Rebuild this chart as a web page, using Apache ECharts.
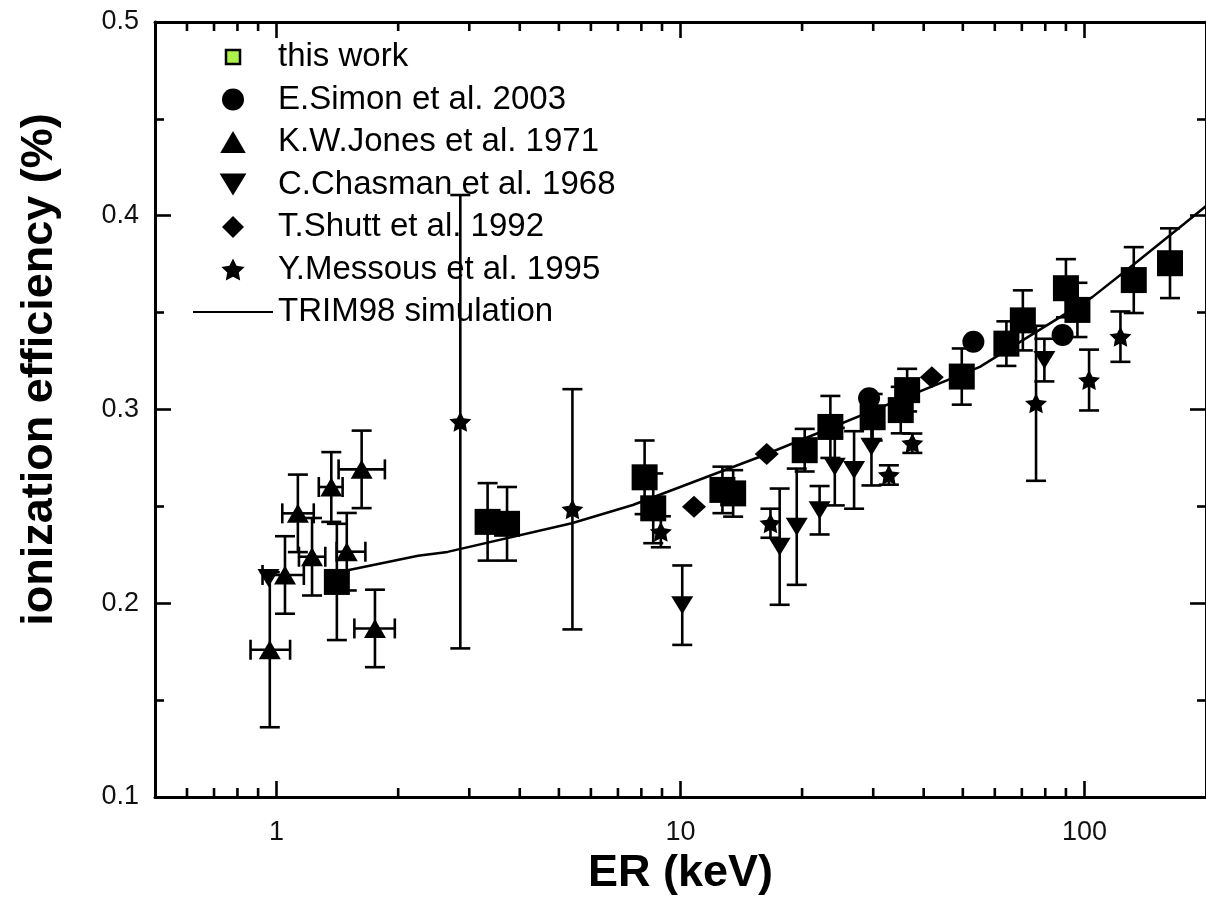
<!DOCTYPE html>
<html>
<head>
<meta charset="utf-8">
<script src="https://cdn.jsdelivr.net/npm/echarts@6/dist/echarts.min.js"></script>
<style>
  html, body { margin: 0; padding: 0; background: #fff; overflow: hidden; }
  #chart { width: 1206px; height: 916px; }
</style>
</head>
<body>
<div id="chart"></div>
<script>
// Recoil energy (keV) and ionization efficiency for each data set
const thisWorkX   = [1.41, 3.33, 3.72, 8.15, 8.56, 12.7, 13.5, 20.3, 23.5, 29.9, 35.1, 36.4, 49.7, 64.1, 70.4, 90.0, 96.1, 132.5, 162.9];
const thisWorkY   = [0.211, 0.242, 0.241, 0.265, 0.249, 0.2585, 0.2567, 0.279, 0.291, 0.296, 0.2997, 0.310, 0.317, 0.334, 0.346, 0.3626, 0.3514, 0.3668, 0.3755];
const thisWorkErr = [0.030, 0.020, 0.019, 0.019, 0.018, 0.012, 0.012, 0.011, 0.016, 0.012, 0.012, 0.011, 0.0145, 0.0115, 0.0155, 0.015, 0.014, 0.017, 0.018];

const simonX = [29.3, 53.1, 88.3];
const simonY = [0.3058, 0.335, 0.3385];

const jonesX    = [0.962, 1.049, 1.129, 1.224, 1.366, 1.492, 1.624, 1.752];
const jonesY    = [0.176, 0.2146, 0.2464, 0.224, 0.260, 0.2266, 0.2691, 0.187];
const jonesErr  = [0.040, 0.020, 0.020, 0.020, 0.018, 0.020, 0.020, 0.020];
const jonesXLow = [0.862, 0.923, 1.033, 1.136, 1.272, 1.408, 1.424, 1.558];
const jonesXHigh= [1.080, 1.168, 1.236, 1.320, 1.457, 1.659, 1.854, 1.962];

const chasmanX   = [0.955, 10.1, 17.6, 19.4, 22.1, 24.1, 26.9, 29.7, 79.6];
const chasmanY   = [0.213, 0.199, 0.2292, 0.2395, 0.248, 0.2705, 0.2688, 0.2808, 0.3255];
const chasmanErr = [0, 0.0205, 0.030, 0.030, 0.0125, 0.020, 0.020, 0.020, 0.011];

const shuttX = [10.8, 16.35, 41.9];
const shuttY = [0.2498, 0.277, 0.3166];

const messousX   = [2.85, 5.40, 8.94, 16.7, 32.8, 37.5, 75.9, 102.7, 122.8];
const messousY   = [0.2937, 0.2485, 0.2369, 0.2413, 0.2662, 0.2826, 0.3032, 0.3152, 0.3376];
const messousErr = [0.117, 0.062, 0.008, 0.0075, 0.005, 0.005, 0.040, 0.0157, 0.013];

const trimX = [1.35, 1.5, 2.24, 2.65, 5.38, 7.62, 15.9, 55.1, 104.6, 135, 177, 200];
const trimY = [0.2145, 0.217, 0.2245, 0.2265, 0.2413, 0.2507, 0.276, 0.322, 0.358, 0.3763, 0.396, 0.405];

// Axis ranges and log-axis minor tick positions
const xRange = [0.5, 200];
const yRange = [0.1, 0.5];
const xMinorTicks = [0.6, 0.7, 0.8, 0.9, 2, 3, 4, 5, 6, 7, 8, 9, 20, 30, 40, 50, 60, 70, 80, 90];

const FONT = 'Liberation Sans, Arial, Helvetica, sans-serif';
const STAR = 'path://M50,0 L64.7,29.8 L97.6,34.5 L73.8,57.7 L79.4,90.5 L50,75 L20.6,90.5 L26.2,57.7 L2.4,34.5 L35.3,29.8 Z';
const UP_TRI = 'path://M50,0 L100,86 L0,86 Z';
const DOWN_TRI = 'path://M0,0 L100,0 L50,82 Z';
const DIAMOND = 'path://M50,0 L100,50 L50,100 L0,50 Z';
const SMALL_SQUARE = 'path://M0,0 M22,22 M4,4 L18,4 L18,18 L4,18 Z';

function pairs(xs, ys) { return xs.map((x, i) => [x, ys[i]]); }

// Error bars with end caps, drawn through the axes' coordinate system
function errorBars(xs, ys, err, xLow, xHigh) {
  const data = xs.map((x, i) => [x, ys[i], ys[i] - err[i], ys[i] + err[i],
    xLow ? xLow[i] : x, xHigh ? xHigh[i] : x]);
  return {
    type: 'custom',
    silent: true,
    z: 2,
    clip: false,
    encode: { x: 0, y: 1 },
    data: data,
    renderItem: function (params, api) {
      const x = api.value(0), y = api.value(1);
      const cap = 10, lw = 2.6;
      const style = { stroke: '#000', lineWidth: lw };
      const children = [];
      const lo = api.value(2), hi = api.value(3);
      if (hi > lo) {
        const t = api.coord([x, hi]), b = api.coord([x, lo]);
        children.push({ type: 'line', shape: { x1: t[0], y1: t[1], x2: b[0], y2: b[1] }, style: style });
        children.push({ type: 'line', shape: { x1: t[0] - cap, y1: t[1], x2: t[0] + cap, y2: t[1] }, style: style });
        children.push({ type: 'line', shape: { x1: b[0] - cap, y1: b[1], x2: b[0] + cap, y2: b[1] }, style: style });
      }
      const xl = api.value(4), xh = api.value(5);
      if (xh > xl) {
        const l = api.coord([xl, y]), r = api.coord([xh, y]);
        children.push({ type: 'line', shape: { x1: l[0], y1: l[1], x2: r[0], y2: r[1] }, style: style });
        children.push({ type: 'line', shape: { x1: l[0], y1: l[1] - cap, x2: l[0], y2: l[1] + cap }, style: style });
        children.push({ type: 'line', shape: { x1: r[0], y1: r[1] - cap, x2: r[0], y2: r[1] + cap }, style: style });
      }
      return { type: 'group', children: children };
    }
  };
}

function scatter(name, xs, ys, symbol, size) {
  return {
    type: 'scatter', name: name, data: pairs(xs, ys),
    symbol: symbol, symbolSize: size, z: 4,
    itemStyle: { color: '#000', opacity: 1 }
  };
}

const chart = echarts.init(document.getElementById('chart'), null, { renderer: 'canvas' });

const axisLineStyle = { color: '#000', width: 3 };
const tickStyle = { color: '#000', width: 2.6 };

chart.setOption({
  animation: false,
  backgroundColor: '#fff',
  textStyle: { fontFamily: FONT },
  grid: { left: 155, top: 22, right: -9, bottom: 119, containLabel: false },
  legend: {
    orient: 'vertical',
    left: 187,
    top: 35,
    itemWidth: 80,
    itemHeight: 22,
    itemGap: 8.5,
    selectedMode: false,
    symbolKeepAspect: true,
    textStyle: { fontFamily: FONT, fontSize: 33, color: '#000', lineHeight: 34 },
    data: [
      { name: 'this work', icon: SMALL_SQUARE, itemStyle: { color: '#acf04c', borderColor: '#000', borderWidth: 2.5 } },
      { name: 'E.Simon et al. 2003', icon: 'circle' },
      { name: 'K.W.Jones et al. 1971', icon: UP_TRI },
      { name: 'C.Chasman et al. 1968', icon: DOWN_TRI },
      { name: 'T.Shutt et al. 1992', icon: DIAMOND },
      { name: 'Y.Messous et al. 1995', icon: STAR },
      { name: 'TRIM98 simulation', itemStyle: { color: 'rgba(0,0,0,0)', borderColor: 'rgba(0,0,0,0)', borderWidth: 0 } }
    ]
  },
  xAxis: [
    {
      type: 'log', logBase: 10, min: xRange[0], max: xRange[1], position: 'bottom',
      name: 'ER (keV)', nameLocation: 'middle', nameGap: 52,
      nameTextStyle: { fontFamily: FONT, fontSize: 45, fontWeight: 'bold', color: '#000' },
      axisLine: { show: true, lineStyle: axisLineStyle },
      axisTick: { show: true, inside: true, length: 16, lineStyle: tickStyle },
      axisLabel: {
        show: true, margin: 22, fontSize: 27, color: '#111', fontFamily: FONT,
        showMinLabel: false, showMaxLabel: false,
        formatter: function (v) { return String(Math.round(v)); }
      },
      splitLine: { show: false }
    },
    {
      type: 'log', logBase: 10, min: xRange[0], max: xRange[1], position: 'top',
      axisLine: { show: true, lineStyle: axisLineStyle },
      axisTick: { show: true, inside: true, length: 16, lineStyle: tickStyle },
      axisLabel: { show: false },
      splitLine: { show: false }
    }
  ],
  yAxis: [
    {
      type: 'value', min: yRange[0], max: yRange[1], interval: 0.1, position: 'left',
      name: 'ionization efficiency (%)', nameLocation: 'middle', nameGap: 93,
      nameTextStyle: { fontFamily: FONT, fontSize: 45, fontWeight: 'bold', color: '#000', padding: [0, 0, 0, 80] },
      axisLine: { show: true, lineStyle: axisLineStyle },
      axisTick: { show: true, inside: true, length: 16, lineStyle: tickStyle },
      minorTick: { show: true, splitNumber: 2, length: 9, lineStyle: tickStyle },
      axisLabel: {
        margin: 16, fontSize: 27, color: '#111', fontFamily: FONT,
        formatter: function (v) { return v.toFixed(1); }
      },
      splitLine: { show: false }
    },
    {
      type: 'value', min: yRange[0], max: yRange[1], interval: 0.1, position: 'right',
      axisLine: { show: true, lineStyle: axisLineStyle },
      axisTick: { show: true, inside: true, length: 16, lineStyle: tickStyle },
      minorTick: { show: true, splitNumber: 2, length: 9, lineStyle: tickStyle },
      axisLabel: { show: false },
      splitLine: { show: false }
    }
  ],
  series: [
    // minor ticks of the log axis, bottom and top edges
    {
      type: 'custom', silent: true, z: 5, clip: false,
      data: xMinorTicks.map(v => [v]),
      encode: { x: 0 },
      renderItem: function (params, api) {
        const v = api.value(0);
        const b = api.coord([v, yRange[0]]);
        const t = api.coord([v, yRange[1]]);
        const style = { stroke: '#000', lineWidth: 2.6 };
        return {
          type: 'group',
          children: [
            { type: 'line', shape: { x1: b[0], y1: b[1], x2: b[0], y2: b[1] - 9 }, style: style },
            { type: 'line', shape: { x1: t[0], y1: t[1], x2: t[0], y2: t[1] + 9 }, style: style }
          ]
        };
      }
    },
    errorBars(thisWorkX, thisWorkY, thisWorkErr),
    errorBars(jonesX, jonesY, jonesErr, jonesXLow, jonesXHigh),
    errorBars(chasmanX, chasmanY, chasmanErr),
    errorBars(messousX, messousY, messousErr),
    {
      type: 'line', name: 'TRIM98 simulation', data: pairs(trimX, trimY),
      symbol: 'none', z: 3,
      lineStyle: { color: '#000', width: 2.5 },
      itemStyle: { color: '#000' }
    },
    scatter('this work', thisWorkX, thisWorkY, 'rect', 26),
    scatter('E.Simon et al. 2003', simonX, simonY, 'circle', 22),
    scatter('K.W.Jones et al. 1971', jonesX, jonesY, UP_TRI, [22, 19]),
    scatter('C.Chasman et al. 1968', chasmanX, chasmanY, DOWN_TRI, [22, 18]),
    scatter('T.Shutt et al. 1992', shuttX, shuttY, DIAMOND, [24, 22]),
    scatter('Y.Messous et al. 1995', messousX, messousY, STAR, [22, 20])
  ]
});
</script>
</body>
</html>
